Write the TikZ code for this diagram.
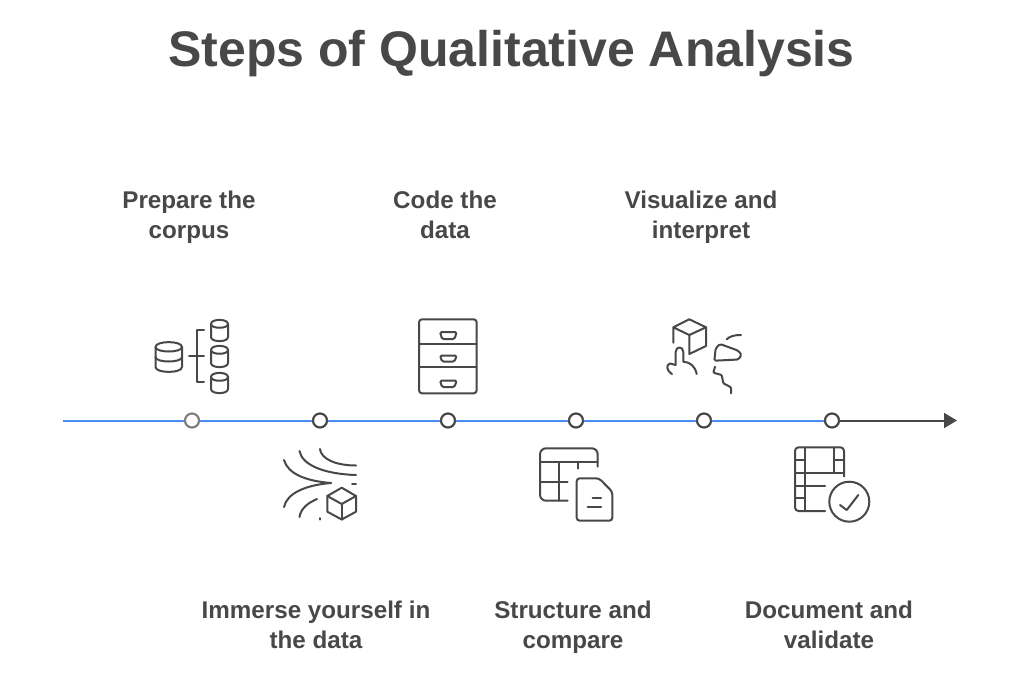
\documentclass[tikz,border=0pt]{standalone}
\usepackage{fontspec}
\setmainfont{Liberation Sans}
\usetikzlibrary{arrows.meta}
\definecolor{inkgray}{HTML}{484848}
\definecolor{lineblue}{HTML}{4A90F2}
\begin{document}
\begin{tikzpicture}[x=1pt,y=-1pt,
	title_node/.style={text=inkgray,font=\bfseries\fontsize{50}{60}\selectfont,inner sep=0pt},
	step_label/.style={text=inkgray,font=\bfseries\fontsize{24.2}{30}\selectfont,align=center,inner sep=0pt},
	dot_node/.style={circle,draw=inkgray,fill=white,line width=2.2pt,minimum size=14pt,inner sep=0pt},
	first_dot/.style={dot_node,draw=gray},
	axis_blue/.style={draw=lineblue,line width=2pt},
	axis_dark/.style={draw=inkgray,line width=2pt,-{Triangle[length=13pt,width=15pt]}},
	icon/.style={draw=inkgray,line width=2pt,line cap=round,line join=round}]
	
	\useasboundingbox (0,0) rectangle (1024,683);
	\fill[white] (0,0) rectangle (1024,683);
	
	\node[title_node] (title) at (511.5,54) {Steps of Qualitative Analysis};
	
	\node[step_label] (prepare) at (189,217) {Prepare the\\corpus};
	\node[step_label] (code) at (445,215) {Code the\\data};
	\node[step_label] (visualize) at (701,217) {Visualize and\\interpret};
	\node[step_label] (immerse) at (316,625) {Immerse yourself in\\the data};
	\node[step_label] (structure) at (573,627) {Structure and\\compare};
	\node[step_label] (document) at (829,625) {Document and\\validate};
	
	\coordinate (start) at (63,420.5);
	\coordinate (end) at (957,420.5);
	\node[first_dot] (d1) at (192,420.5) {};
	\node[dot_node] (d2) at (320,420.5) {};
	\node[dot_node] (d3) at (448,420.5) {};
	\node[dot_node] (d4) at (576,420.5) {};
	\node[dot_node] (d5) at (704,420.5) {};
	\node[dot_node] (d6) at (832,420.5) {};
	
	\draw[axis_blue] (start) -- (d1);
	\draw[axis_blue] (d1) -- (d2);
	\draw[axis_blue] (d2) -- (d3);
	\draw[axis_blue] (d3) -- (d4);
	\draw[axis_blue] (d4) -- (d5);
	\draw[axis_blue] (d5) -- (d6);
	\draw[axis_dark] (d6) -- (end);
	
	\draw[icon] (155.5,347) .. controls (155.5,340.5) and (182,340.5) .. (182,347) -- (182,367) .. controls (182,373.5) and (155.5,373.5) .. (155.5,367) -- cycle;
	\draw[icon] (155.5,347) .. controls (155.5,353) and (182,353) .. (182,347);
	\draw[icon] (155.5,357) .. controls (155.5,363) and (182,363) .. (182,357);
	\draw[icon] (211,324) .. controls (211,318.5) and (228,318.5) .. (228,324) -- (228,337) .. controls (228,342.5) and (211,342.5) .. (211,337) -- cycle;
	\draw[icon] (211,324) .. controls (211,329) and (228,329) .. (228,324);
	\draw[icon] (211,350) .. controls (211,344.5) and (228,344.5) .. (228,350) -- (228,363) .. controls (228,368.5) and (211,368.5) .. (211,363) -- cycle;
	\draw[icon] (211,350) .. controls (211,355) and (228,355) .. (228,350);
	\draw[icon] (211,377) .. controls (211,371.5) and (228,371.5) .. (228,377) -- (228,389) .. controls (228,394.5) and (211,394.5) .. (211,389) -- cycle;
	\draw[icon] (211,377) .. controls (211,382) and (228,382) .. (228,377);
	\draw[icon] (204,330) -- (197,330) -- (197,382) -- (204,382);
	\draw[icon] (189,356) -- (204,356);
	
	\draw[icon] (284,460) .. controls (288,474) and (306,481) .. (331,483);
	\draw[icon] (284,507) .. controls (287,493) and (306,485) .. (331,483);
	\draw[icon] (299.5,451) .. controls (302,465) and (324,474) .. (356,475);
	\draw[icon] (320,449) .. controls (321,459) and (336,465.5) .. (356,465.5);
	\draw[icon] (299.5,517) .. controls (301,508) and (308,503) .. (317,499);
	\draw[icon] (320,518) -- (320,519.5);
	\draw[icon] (352,484) -- (356,484);
	\draw[icon] (341.7,487.7) -- (356,496) -- (356,511.7) -- (341.7,519.5) -- (327.3,511.7) -- (327.3,496) -- cycle;
	\draw[icon] (327.3,496) -- (341.7,504) -- (356,496);
	\draw[icon] (341.7,504) -- (341.7,519.5);
	
	\draw[icon,rounded corners=3pt] (419,319.3) rectangle (476.7,393.3);
	\draw[icon] (419,344.3) -- (476.7,344.3);
	\draw[icon] (419,367.3) -- (476.7,367.3);
	\draw[icon,rounded corners=1.5pt] (440,332) -- (456.7,332) -- (454.5,339) -- (442,339) -- cycle;
	\draw[icon,rounded corners=1.5pt] (440,355.5) -- (456.7,355.5) -- (454.5,361.5) -- (442,361.5) -- cycle;
	\draw[icon,rounded corners=1.5pt] (440,380.5) -- (456.7,380.5) -- (454.5,387) -- (442,387) -- cycle;
	
	\draw[icon,rounded corners=6pt] (597.7,466.7) -- (597.7,448.3) -- (540,448.3) -- (540,500.7) -- (567.7,500.7);
	\draw[icon] (540,462.3) -- (597.7,462.3);
	\draw[icon] (559,462.3) -- (559,500.7);
	\draw[icon] (540,481.7) -- (567.7,481.7);
	\draw[icon] (578.3,462.3) -- (578.3,468.5);
	\draw[icon,rounded corners=3pt] (576.7,478.3) -- (599,478.3) -- (612.3,491.7) -- (612.3,520.7) -- (576.7,520.7) -- cycle;
	\draw[icon] (592.7,497.7) -- (601,497.7);
	\draw[icon] (587.7,507.3) -- (601,507.3);
	
	\draw[icon] (673.3,342.7) -- (673.3,327.3) -- (689.3,319.3) -- (706,327.3) -- (706,346) -- (689.3,354) -- (689.3,335) -- (673.3,327.3);
	\draw[icon] (689.3,335) -- (706,327.3);
	\draw[icon] (696.7,374) .. controls (695,366) and (690,362) .. (683.3,361.7) -- (683.3,352) .. controls (683.3,346) and (675.7,346) .. (675.7,352) -- (675.7,365) -- (670,363.5) .. controls (666,365) and (666,370) .. (672,374);
	\draw[icon,rounded corners=1.5pt] (714.3,360.7) -- (715.7,348.3) -- (720,344) -- (738.3,350.7) -- (741.5,355) -- (738.3,359.5) -- cycle;
	\draw[icon] (726.7,339.3) .. controls (730,336) and (735,335) .. (741,335);
	\draw[icon,rounded corners=1pt] (715,366.7) -- (713.3,372.7) -- (721.7,375) -- (723.3,383.3) -- (731,387.3) -- (731,393.3);
	
	\draw[icon,rounded corners=3.5pt] (844,476.5) -- (844,447.3) -- (795,447.3) -- (795,511) -- (825,511);
	\draw[icon] (805,447.3) -- (805,511);
	\draw[icon] (834,447.3) -- (834,472.7);
	\draw[icon] (795,472.7) -- (844,472.7);
	\draw[icon] (795,460) -- (805,460);
	\draw[icon] (834,460) -- (844,460);
	\draw[icon] (795,486) -- (825,486);
	\draw[icon] (795,498.3) -- (805,498.3);
	\draw[icon] (849.3,501.7) circle (20);
	\draw[icon] (840,505) -- (846.7,510) -- (858.3,495);
	
\end{tikzpicture}
\end{document}
